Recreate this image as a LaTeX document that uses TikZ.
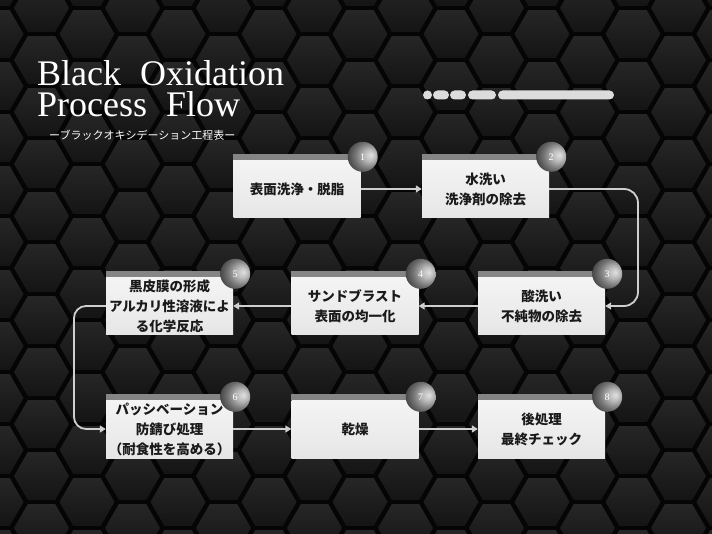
\documentclass[tikz,border=0pt]{standalone}
\usepackage{fontspec}
\setmainfont{Liberation Serif}
\newfontfamily\jpfont{Noto Sans CJK JP}
\usetikzlibrary{arrows.meta}
\definecolor{bgblack}{HTML}{050505}
\definecolor{boxtop}{HTML}{F4F4F4}
\definecolor{boxbot}{HTML}{E6E6E6}
\definecolor{bandgray}{HTML}{858585}
\definecolor{textdark}{HTML}{1A1A1A}
\definecolor{arrowgray}{HTML}{CFCFCF}
\definecolor{pillgray}{HTML}{DCDCDC}
\pgfdeclareradialshading{numballshade}{\pgfpoint{14bp}{3bp}}{%
  color(0bp)=(black!12); color(10bp)=(black!28); color(22bp)=(black!55);
  color(34bp)=(black!76); color(45bp)=(black!88); color(60bp)=(black)}
\tikzset{
  hexcell/.style={top color=black!85, bottom color=black!92, draw=none},
  stepbox/.style={minimum width=127pt, minimum height=58pt, inner sep=0pt,
    top color=boxtop, bottom color=boxbot, text=textdark, align=center,
    font=\jpfont\bfseries\fontsize{13.5pt}{20pt}\selectfont},
  band/.style={fill=bandgray},
  numball/.style={circle, minimum size=30pt, inner sep=0pt, shade, shading=numballshade,
    text=white, font=\fontsize{10pt}{12pt}\selectfont},
  conn/.style={draw=arrowgray, line width=1.8pt, -{Triangle[length=6pt,width=7pt]}},
  pill/.style={fill=pillgray},
}
\begin{document}
\begin{tikzpicture}[x=1pt,y=-1pt]
\useasboundingbox (0,0) rectangle (712,534);
\fill[bgblack] (0,0) rectangle (712,534);
% hexagon background
\begin{scope}
\clip (0,0) rectangle (712,534);
\foreach \k in {-2,...,15}{
  \foreach \j in {-1,...,10}{
    \pgfmathsetmacro\cx{633-45.5*\k}
    \pgfmathsetmacro\cy{ifthenelse(mod(\k+4,2)==1,60,34)+52*\j}
    \path[hexcell] (\cx,\cy) +(0:27.5pt) -- +(60:27.5pt) -- +(120:27.5pt) -- +(180:27.5pt) -- +(240:27.5pt) -- +(300:27.5pt) -- cycle;
  }
}
\end{scope}
% title
\node[anchor=base west, inner sep=0pt, text=white, align=left, font=\fontsize{36pt}{31pt}\selectfont] (title) at (37,117) {Black\hspace{19pt}Oxidation\\Process\hspace{19pt}Flow};
\node[anchor=west, inner sep=0pt, text=white, font=\jpfont\fontsize{11pt}{13pt}\selectfont] (subtitle) at (49,135) {ーブラックオキシデーション工程表ー};
% progress pills
\fill[pill, rounded corners=4.5pt] (423,90.5) rectangle (432,99.5);
\fill[pill, rounded corners=4.5pt] (433,90.5) rectangle (449,99.5);
\fill[pill, rounded corners=4.5pt] (450,90.5) rectangle (466,99.5);
\fill[pill, rounded corners=4.5pt] (468,90.5) rectangle (496,99.5);
\fill[pill, rounded corners=4.5pt] (498,90.5) rectangle (614,99.5);
% boxes
\node[stepbox] (b1) at (297,189) {表面洗浄・脱脂};
\node[stepbox] (b2) at (485.5,189) {水洗い\\洗浄剤の除去};
\node[stepbox] (b3) at (541.5,306) {酸洗い\\不純物の除去};
\node[stepbox] (b4) at (355,306) {サンドブラスト\\表面の均一化};
\node[stepbox] (b5) at (169.5,306) {黒皮膜の形成\\アルカリ性溶液によ\\る化学反応};
\node[stepbox] (b6) at (169.5,429) {パッシベーション\\防錆び処理\\（耐食性を高める）};
\node[stepbox] (b7) at (355,429) {乾燥};
\node[stepbox] (b8) at (541.5,429) {後処理\\最終チェック};
\foreach \b in {b1,b2,b3,b4,b5,b6,b7,b8}{
  \fill[band] (\b.north west) rectangle ([yshift=6pt]\b.north east);
}
% connectors
\coordinate (c23) at (638,0);
\coordinate (c56) at (74,0);
\draw[conn] (b1.east) -- (b2.west);
\draw[conn, rounded corners=14pt] (b2.east) -- (b2.east -| c23) -- (b3.east -| c23) -- (b3.east);
\draw[conn] (b3.west) -- (b4.east);
\draw[conn] (b4.west) -- (b5.east);
\draw[conn, rounded corners=12pt] (b5.west) -- (b5.west -| c56) -- (b6.west -| c56) -- (b6.west);
\draw[conn] (b6.east) -- (b7.west);
\draw[conn] (b7.east) -- (b8.west);
% number balls
\foreach \b/\n in {b1/1,b2/2,b3/3,b4/4,b5/5,b6/6,b7/7,b8/8}{
  \node[numball] (n\n) at ([xshift=2pt,yshift=3pt]\b.north east) {\n};
}
\end{tikzpicture}
\end{document}
